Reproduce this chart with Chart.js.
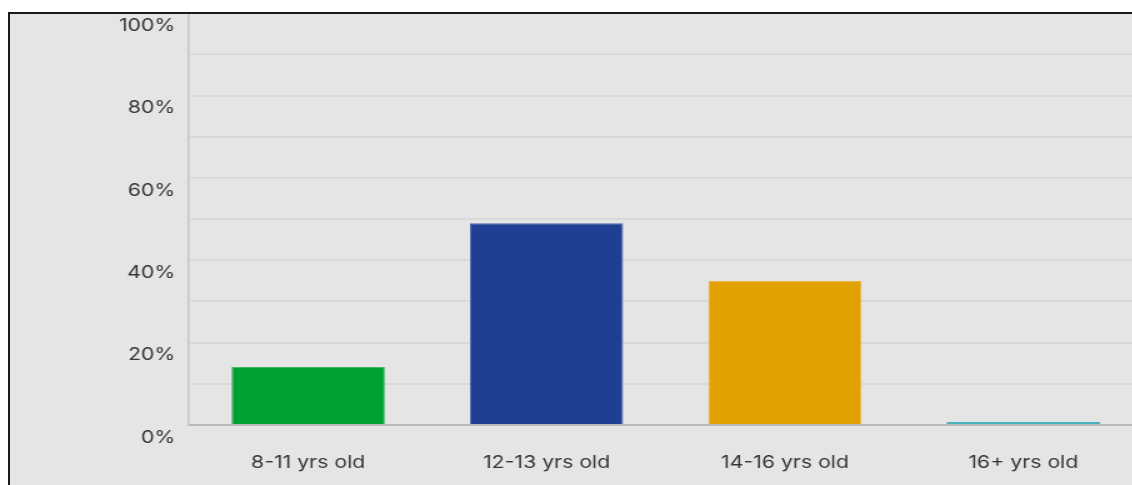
<!DOCTYPE html>
<html>
<head>
<meta charset="utf-8">
<script src="https://cdn.jsdelivr.net/npm/chart.js@4/dist/chart.umd.min.js"></script>
<style>
  html, body { margin: 0; padding: 0; background: #fff; overflow: hidden; }
  #panel {
    position: absolute; left: 8px; top: 12px; width: 1200px; height: 500px;
    background: #e5e5e5;
  }
  #frame {
    position: absolute; left: 8px; top: 12px; width: 1200px; height: 500px; z-index: 2;
    border-left: 2px solid #1a1a1a; border-top: 2px solid #1a1a1a; pointer-events: none;
  }
  /* the chart is drawn narrow and widened, which gives the broad lettering */
  #chart { position: absolute; left: 0; top: -8px; z-index: 1; transform: scaleX(1.25); transform-origin: 0 0; }
</style>
</head>
<body>
<div id="panel"></div>
<canvas id="chart" width="914" height="493"></canvas>
<div id="frame"></div>
<script>
let ageGroups = ['8-11 yrs old', '12-13 yrs old', '14-16 yrs old', '16+ yrs old']
let shares = [14.1, 49, 35, 0.7]
let barColors = ['#00a134', '#1e3f92', '#e1a100', '#45b4bf']
let edgeColors = ['#3fb865', '#5468ad', '#eab744', '#45b4bf']

let ctx = document.getElementById('chart').getContext('2d')
let ageChart = new Chart(ctx, {
  type: 'bar',
  data: {
    labels: ageGroups,
    datasets: [{
      data: shares,
      backgroundColor: barColors,
      borderColor: edgeColors,
      borderWidth: [1, 1, 1, 0],
      categoryPercentage: 1,
      barPercentage: 0.643
    }]
  },
  options: {
    responsive: false,
    animation: false,
    layout: {
      padding: { top: 6, left: 0, right: 0, bottom: 0 }
    },
    plugins: {
      legend: { display: false },
      tooltip: { enabled: false }
    },
    scales: {
      x: {
        grid: { display: false, drawTicks: false },
        border: { color: '#b9b9b9', width: 2 },
        ticks: {
          color: '#363636',
          padding: 28,
          font: { family: 'Inter', size: 17 }
        },
        afterFit: function(scale) { scale.height = 60 }
      },
      y: {
        min: 0,
        max: 100,
        grid: { color: '#d9d9d9', lineWidth: 2, drawTicks: false },
        border: { color: '#c6c6c6', width: 1.5 },
        ticks: {
          stepSize: 10,
          color: '#363636',
          padding: 11,
          labelOffset: 12.5,
          font: { family: 'Inter', size: 17 },
          callback: function(v) { return v % 20 == 0 ? v + '%' : '' }
        },
        afterFit: function(scale) { scale.width = 151.2 }
      }
    }
  }
})
</script>
</body>
</html>
